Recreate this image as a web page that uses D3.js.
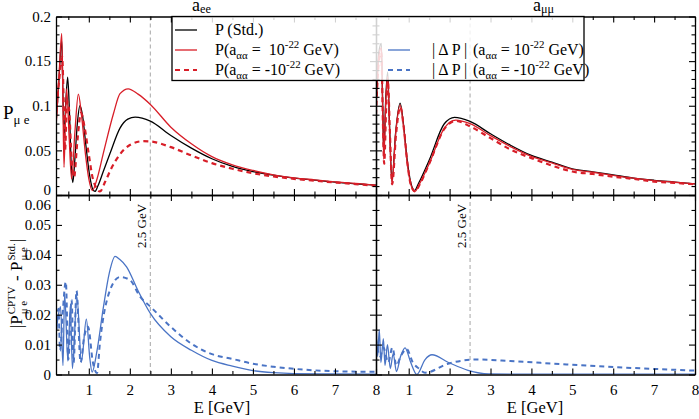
<!DOCTYPE html>
<html>
<head>
<meta charset="utf-8">
<script src="https://cdn.jsdelivr.net/npm/d3@7"></script>
<style>
  body { margin: 0; background: #fff; }
  svg text { font-family: "Liberation Serif", "DejaVu Serif", serif; white-space: pre; }
</style>
</head>
<body>
<svg id="chart" width="699" height="419"></svg>
<script>
// Energy range and tick labels
const energyDomain = [0.2, 8]
const energyTicks = [1, 2, 3, 4, 5, 6, 7, 8]
const energyMinor = [0.5, 1.5, 2.5, 3.5, 4.5, 5.5, 6.5, 7.5]
const probTicks = [0, 0.05, 0.1, 0.15, 0.2]
const diffTicks = [0, 0.01, 0.02, 0.03, 0.04, 0.05, 0.06]
const markerEnergy = 2.5

// a_ee : P_mue, [E (GeV), P]
const eeStd = [[0.2,0.08],[0.26,0.12],[0.34,0.173],[0.37,0.11],[0.395,0.065],[0.44,0.105],[0.485,0.132],[0.53,0.09],[0.57,0.035],[0.61,0.014],[0.66,0.04],[0.72,0.08],[0.785,0.1],[0.85,0.088],[0.93,0.055],[1.02,0.022],[1.1,0.006],[1.15,0.004],[1.22,0.01],[1.35,0.026],[1.52,0.047],[1.76,0.075],[1.95,0.085],[2.13,0.0873],[2.5,0.0828],[3,0.0667],[3.5,0.0525],[4,0.0406],[4.5,0.032],[5,0.0263],[5.5,0.0222],[6,0.0189],[6.5,0.0167],[7,0.0144],[7.5,0.0126],[8,0.011]]
const eePos = [[0.2,0.075],[0.27,0.13],[0.34,0.181],[0.37,0.1],[0.395,0.031],[0.43,0.085],[0.46,0.119],[0.52,0.065],[0.58,0.018],[0.66,0.07],[0.745,0.113],[0.82,0.09],[0.92,0.045],[1.0,0.018],[1.085,0.005],[1.2,0.018],[1.35,0.046],[1.6,0.091],[1.76,0.1135],[1.96,0.119],[2.2,0.113],[2.5,0.1015],[3,0.076],[3.5,0.0574],[4,0.043],[4.5,0.0338],[5,0.0275],[5.5,0.0226],[6,0.0193],[6.5,0.017],[7,0.0148],[7.5,0.013],[8,0.0107]]
const eeNeg = [[0.2,0.09],[0.28,0.13],[0.35,0.155],[0.39,0.1],[0.42,0.05],[0.47,0.105],[0.52,0.095],[0.58,0.04],[0.64,0.02],[0.72,0.06],[0.81,0.092],[0.9,0.075],[1.0,0.045],[1.1,0.018],[1.27,0.004],[1.4,0.015],[1.55,0.03],[1.75,0.045],[2.0,0.056],[2.33,0.0603],[2.5,0.06],[3,0.0536],[3.5,0.0443],[4,0.0357],[4.5,0.0294],[5,0.0245],[5.5,0.0208],[6,0.0181],[6.5,0.016],[7,0.014],[7.5,0.0122],[8,0.0103]]

// a_mumu : P_mue
const mmStd = [[0.2,0.1],[0.27,0.16],[0.33,0.17],[0.365,0.1],[0.39,0.045],[0.44,0.11],[0.485,0.138],[0.53,0.08],[0.59,0.0155],[0.68,0.07],[0.79,0.103],[0.87,0.08],[0.96,0.04],[1.05,0.014],[1.14,0.005],[1.25,0.014],[1.5,0.039],[1.87,0.0798],[2.12,0.087],[2.5,0.0824],[3,0.0686],[3.5,0.0555],[4,0.0443],[4.5,0.0368],[5,0.0294],[5.5,0.026],[6,0.0225],[6.5,0.019],[7,0.0165],[7.5,0.0145],[8,0.0125]]
const mmPos = [[0.2,0.095],[0.27,0.155],[0.33,0.165],[0.365,0.09],[0.39,0.04],[0.44,0.105],[0.485,0.133],[0.53,0.075],[0.59,0.013],[0.68,0.068],[0.79,0.101],[0.87,0.078],[0.96,0.037],[1.05,0.012],[1.15,0.004],[1.26,0.012],[1.5,0.035],[1.87,0.075],[2.15,0.084],[2.5,0.08],[3,0.0665],[3.5,0.054],[4,0.0433],[4.5,0.036],[5,0.0288],[5.5,0.0255],[6,0.022],[6.5,0.0188],[7,0.0162],[7.5,0.0143],[8,0.0124]]
const mmNeg = [[0.2,0.09],[0.27,0.15],[0.33,0.16],[0.37,0.08],[0.4,0.035],[0.45,0.1],[0.49,0.128],[0.54,0.07],[0.595,0.012],[0.69,0.068],[0.795,0.099],[0.88,0.075],[0.97,0.035],[1.06,0.01],[1.16,0.004],[1.27,0.012],[1.5,0.035],[1.87,0.074],[2.15,0.083],[2.5,0.0768],[3,0.0637],[3.5,0.0507],[4,0.0413],[4.5,0.033],[5,0.0263],[5.5,0.0235],[6,0.0205],[6.5,0.018],[7,0.015],[7.5,0.0135],[8,0.012]]

// |P_CPTV - P_Std|
const eeDiffPos = [[0.2,0.0138],[0.26,0.02],[0.31,0.0227],[0.37,0.003],[0.41,0.027],[0.49,0.0045],[0.55,0.023],[0.6,0.002],[0.71,0.026],[0.82,0.0045],[0.94,0.0185],[1.02,0.006],[1.08,0.0008],[1.2,0.008],[1.35,0.022],[1.5,0.034],[1.64,0.0395],[1.75,0.0385],[1.92,0.036],[2.2,0.028],[2.5,0.0204],[3,0.0126],[3.5,0.0081],[4,0.0047],[4.5,0.0028],[5,0.0013],[5.5,0.0006],[6,0.0003],[7,0.0002],[8,0.0001]]
const eeDiffNeg = [[0.2,0.012],[0.26,0.022],[0.3,0.008],[0.36,0.02],[0.44,0.031],[0.5,0.005],[0.58,0.025],[0.63,0.004],[0.7,0.028],[0.8,0.004],[0.88,0.012],[0.98,0.016],[1.1,0.004],[1.2,0.0005],[1.27,0.0104],[1.52,0.0283],[1.76,0.0326],[2.0,0.0316],[2.25,0.026],[2.5,0.0227],[3,0.0159],[3.5,0.0103],[4,0.0068],[4.5,0.0052],[5,0.0036],[5.5,0.0026],[6,0.0019],[7,0.0011],[8,0.0009]]
const mmDiffPos = [[0.2,0.018],[0.24,0.006],[0.28,0.015],[0.32,0.004],[0.38,0.012],[0.42,0.003],[0.48,0.01],[0.55,0.002],[0.62,0.007],[0.7,0.001],[0.8,0.006],[0.91,0.0089],[1.05,0.004],[1.2,0],[1.4,0.005],[1.57,0.0066],[1.96,0.0041],[2.45,0.0014],[2.95,0.0002],[4,0.0001],[8,0.0001]]
const mmDiffNeg = [[0.2,0.012],[0.3,0.006],[0.38,0.009],[0.5,0.004],[0.6,0.009],[0.7,0.003],[0.8,0.006],[0.95,0.0085],[1.1,0.004],[1.25,0.002],[1.4,0.0006],[1.96,0.0036],[2.67,0.005],[3.48,0.0045],[4.7,0.0035],[6,0.0025],[8,0.0013]]

const BLACK = '#000', RED = '#d81e28', BLUE = '#4a74c5', GREY = '#b4b4b4'
const FONT = '"Liberation Serif", "DejaVu Serif", serif'
const styles = {
  std: {color: BLACK, width: 1.3, dash: null},
  pos: {color: RED, width: 1.3, dash: null},
  neg: {color: RED, width: 2.2, dash: '5,4'},
  dpos: {color: BLUE, width: 1.3, dash: null},
  dneg: {color: BLUE, width: 2, dash: '5,4'}
}

const svg = d3.select('#chart').attr('font-family', FONT)

// panel geometry
const colX = [[56, 376], [376, 695]]
const rowY = [[195, 16.5], [374.5, 195]]
const xScales = colX.map(r => d3.scaleLinear().domain(energyDomain).range(r))
const yScales = [
  d3.scaleLinear().domain([0, 0.2]).range(rowY[0]),
  d3.scaleLinear().domain([0, 0.06]).range(rowY[1])
]
const yMinor = [
  d3.range(0.01, 0.2, 0.01).filter(v => Math.abs(v / 0.05 - Math.round(v / 0.05)) > 1e-6),
  d3.range(0.005, 0.06, 0.01)
]
const yMajor = [probTicks, diffTicks]

const panels = [
  {col: 0, row: 0, series: [[eeStd, 'std'], [eePos, 'pos'], [eeNeg, 'neg']]},
  {col: 1, row: 0, series: [[mmStd, 'std'], [mmPos, 'pos'], [mmNeg, 'neg']]},
  {col: 0, row: 1, series: [[eeDiffPos, 'dpos'], [eeDiffNeg, 'dneg']]},
  {col: 1, row: 1, series: [[mmDiffPos, 'dpos'], [mmDiffNeg, 'dneg']]}
]

const defs = svg.append('defs')

panels.forEach((p, i) => {
  const xs = xScales[p.col], ys = yScales[p.row]
  const [x0, x1] = xs.range(), [y0, y1] = ys.range()
  defs.append('clipPath').attr('id', 'clip' + i)
    .append('rect').attr('x', x0).attr('y', y1).attr('width', x1 - x0).attr('height', y0 - y1)

  const g = svg.append('g').attr('clip-path', `url(#clip${i})`)

  // 2.5 GeV marker
  g.append('line')
    .attr('x1', xs(markerEnergy)).attr('x2', xs(markerEnergy))
    .attr('y1', y1).attr('y2', y0)
    .attr('stroke', GREY).attr('stroke-width', 1.2).attr('stroke-dasharray', '4,3')

  const line = d3.line()
    .x(d => xs(d[0]))
    .y(d => ys(d[1]))
    .curve(d3.curveMonotoneX)

  p.series.forEach(([data, key]) => {
    const s = styles[key]
    g.append('path')
      .datum(data)
      .attr('d', line)
      .attr('fill', 'none')
      .attr('stroke', s.color)
      .attr('stroke-width', s.width)
      .attr('stroke-dasharray', s.dash)
  })

  if (p.row === 1) {
    svg.append('text')
      .attr('transform', `translate(${xs(markerEnergy) - 4},248) rotate(-90)`)
      .attr('font-size', 13)
      .text('2.5 GeV')
  }
})

// axes, Grace style: inward ticks on all four sides
const styleAxis = sel => {
  sel.attr('font-family', FONT)
  sel.select('.domain').attr('stroke', '#000').attr('stroke-width', 1.3)
  sel.selectAll('.tick line').attr('stroke', '#000').attr('stroke-width', 1.1)
  sel.selectAll('text').attr('font-size', 15).attr('fill', '#000')
}
const noLabel = () => ''

panels.forEach(p => {
  const xs = xScales[p.col], ys = yScales[p.row]
  const [x0, x1] = xs.range(), [y0, y1] = ys.range()
  const showX = p.row === 1, showY = p.col === 0

  const axes = [
    [d3.axisBottom, xs, `translate(0,${y0})`, energyTicks, energyMinor, showX ? d3.format('d') : noLabel],
    [d3.axisTop, xs, `translate(0,${y1})`, energyTicks, energyMinor, noLabel],
    [d3.axisLeft, ys, `translate(${x0},0)`, yMajor[p.row], yMinor[p.row], showY ? (d => String(d)) : noLabel],
    [d3.axisRight, ys, `translate(${x1},0)`, yMajor[p.row], yMinor[p.row], noLabel]
  ]
  axes.forEach(([maker, sc, tr, major, minor, fmt]) => {
    svg.append('g').attr('transform', tr)
      .call(maker(sc).tickValues(minor).tickSize(-3.5).tickSizeOuter(0).tickFormat(noLabel))
      .call(g => g.select('.domain').remove())
      .call(styleAxis)
    const ag = svg.append('g').attr('transform', tr)
      .call(maker(sc).tickValues(major).tickSize(-6).tickSizeOuter(0)
        .tickPadding(maker === d3.axisBottom ? 10 : 5).tickFormat(fmt))
      .call(styleAxis)
    if (maker === d3.axisLeft && showY) {
      // keep end labels off the shared panel border
      ag.selectAll('.tick text')
        .attr('y', d => (p.row === 0 && d === 0) ? -5 : (p.row === 1 && d === 0.06) ? 10 : 0)
    }
  })
})

// rich text helper (sub/superscripts)
function rich(text, parts, size, subShift = 0.28) {
  let base = 0
  parts.forEach(([s, k]) => {
    const off = k === 'sub' ? size * subShift : k === 'sup' ? -size * 0.42 : 0
    text.append('tspan')
      .attr('dy', off - base)
      .attr('font-size', k ? size * 0.68 : size)
      .text(s)
    base = off
  })
  return text
}

// panel titles, sitting just above the frame
rich(svg.append('text').attr('x', 192).attr('y', 10.5), [['a', null], ['ee', 'sub']], 18, 0.12)
rich(svg.append('text').attr('x', 533).attr('y', 10.5), [['a', null], ['μμ', 'sub']], 18, 0.12)

// x labels
svg.append('text').attr('x', 222).attr('y', 413).attr('text-anchor', 'middle')
  .attr('font-size', 16.5).text('E [GeV]')
svg.append('text').attr('x', 535).attr('y', 413).attr('text-anchor', 'middle')
  .attr('font-size', 16.5).text('E [GeV]')

// y label, top
rich(svg.append('text').attr('x', 3).attr('y', 119), [['P', null], ['μ e', 'sub']], 19)

// y label, bottom (rotated, with stacked super/subscripts)
const yl = svg.append('g')
const pieces = [
  ['|P', 'main'], ['CPTV', 'sup', 'μ e'], [' - P', 'main'], ['Std.', 'sup', 'μ e'], ['|', 'main']
]
let cx = 0
pieces.forEach(([s, k, sub]) => {
  if (k === 'main') {
    const t = yl.append('text').attr('x', cx).attr('y', 0).attr('font-size', 17).text(s)
    cx += t.node().getComputedTextLength() + 1
  } else {
    const a = yl.append('text').attr('x', cx).attr('y', -7).attr('font-size', 11).text(s)
    const b = yl.append('text').attr('x', cx).attr('y', 5).attr('font-size', 11).text(sub)
    cx += Math.max(a.node().getComputedTextLength(), b.node().getComputedTextLength()) + 1
  }
})
yl.attr('transform', `translate(22,${283 + cx / 2}) rotate(-90)`)

// legend
const legend = svg.append('g')
legend.append('rect')
  .attr('x', 172).attr('y', 16.5).attr('width', 412).attr('height', 64)
  .attr('fill', '#fff').attr('fill-opacity', 0.82)
  .attr('stroke', '#000').attr('stroke-width', 1.3)

const legendRows = [
  {x: 175, y: 30, key: 'std', tx: 215, parts: [['P (Std.)', null]]},
  {x: 175, y: 50, key: 'pos', tx: 215, parts: [['P(a', null], ['αα', 'sub'], [' =  10', null], ['-22', 'sup'], [' GeV)', null]]},
  {x: 175, y: 70, key: 'neg', tx: 215, parts: [['P(a', null], ['αα', 'sub'], [' = -10', null], ['-22', 'sup'], [' GeV)', null]]},
  {x: 388, y: 50, key: 'dpos', tx: 432, lead: '| Δ P |', parts: [['(a', null], ['αα', 'sub'], [' = 10', null], ['-22', 'sup'], [' GeV)', null]]},
  {x: 388, y: 70, key: 'dneg', tx: 432, lead: '| Δ P |', parts: [['(a', null], ['αα', 'sub'], [' = -10', null], ['-22', 'sup'], [' GeV)', null]]}
]
legendRows.forEach(r => {
  const s = styles[r.key]
  legend.append('line')
    .attr('x1', r.x).attr('x2', r.x + 22).attr('y1', r.y).attr('y2', r.y)
    .attr('stroke', s.color).attr('stroke-width', s.width).attr('stroke-dasharray', s.dash)
  if (r.lead) {
    legend.append('text').attr('x', r.tx).attr('y', r.y + 5).attr('font-size', 16).text(r.lead)
    rich(legend.append('text').attr('x', 473).attr('y', r.y + 5), r.parts, 16)
  } else {
    rich(legend.append('text').attr('x', r.tx).attr('y', r.y + 5), r.parts, 16)
  }
})
</script>
</body>
</html>
